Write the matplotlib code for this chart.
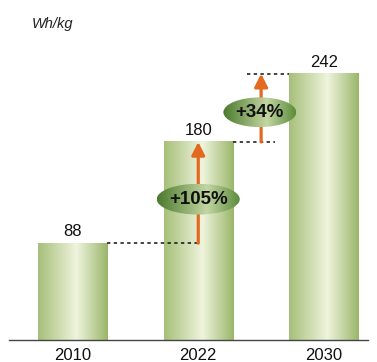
import matplotlib
matplotlib.use("Agg")
import matplotlib.pyplot as plt
import numpy as np
from matplotlib.colors import LinearSegmentedColormap
from matplotlib.patches import Ellipse

plt.rcParams['font.family'] = ['Liberation Sans', 'DejaVu Sans']

years = ["2010", "2022", "2030"]
values = [88, 180, 242]
growth_labels = ["+105%", "+34%"]
unit = "Wh/kg"

W, H = 377, 362
fig = plt.figure(figsize=(W / 100, H / 100), dpi=100)
ax = fig.add_axes([9 / W, 22 / H, (368 - 9) / W, 340 / H])
x = np.arange(len(years))
ax.set_xlim(-0.505, 2.35)
ax.set_ylim(0, 309)

for s in ["top", "right", "left"]:
    ax.spines[s].set_visible(False)
ax.spines["bottom"].set_color("#454545")
ax.spines["bottom"].set_linewidth(1.0)
ax.set_yticks([])
ax.set_xticks(x)
ax.set_xticklabels(years, fontsize=12, color="#111111")
ax.tick_params(axis="x", length=0, pad=5.5)

bar_cmap = LinearSegmentedColormap.from_list(
    "bar", [(0, "#a6bf79"), (0.55, "#eff4dd"), (1, "#9ab66b")])
ell_cmap = LinearSegmentedColormap.from_list(
    "ell", [(0, "#4b7a2c"), (0.6, "#c3d6a3"), (1, "#5c8b3b")])
grad = np.linspace(0, 1, 256).reshape(1, -1)

bw = 0.55
for xi, v in zip(x, values):
    ax.imshow(grad, cmap=bar_cmap, aspect="auto",
              extent=(xi - bw / 2, xi + bw / 2, 0, v), zorder=1)
    ax.annotate(str(v), (xi, v), xytext=(0, 3), textcoords="offset points",
                ha="center", va="bottom", fontsize=12, color="#111111")

dash = dict(color="#111111", lw=1.1, linestyle=(0, (2.2, 2.2)), zorder=2)
orange = "#e2691f"
arrow_x = [1.0, 1.5]

# 2010 -> 2022
ax.plot([0 + bw / 2, arrow_x[0]], [values[0], values[0]], **dash)
# 2022 -> 2030
ax.plot([1 + bw / 2, 1.61], [values[1], values[1]], **dash)
ax.plot([1.39, 2 - bw / 2], [values[2], values[2]], **dash)

for i, ax_x in enumerate(arrow_x):
    ax.annotate("", xy=(ax_x, values[i + 1]), xytext=(ax_x, values[i]),
                arrowprops=dict(arrowstyle="-|>,head_length=0.55,head_width=0.28",
                                color=orange, lw=2.3, mutation_scale=14,
                                shrinkA=0, shrinkB=0), zorder=3)

ell_specs = [(1.0, 128, 0.66, 28), (1.49, 207, 0.58, 27)]
for (cx, cy, ew, eh), lab in zip(ell_specs, growth_labels):
    e = Ellipse((cx, cy), ew, eh, facecolor="none", edgecolor="none", zorder=4)
    ax.add_patch(e)
    im = ax.imshow(grad, cmap=ell_cmap, aspect="auto",
                   extent=(cx - ew / 2, cx + ew / 2, cy - eh / 2, cy + eh / 2),
                   zorder=4)
    im.set_clip_path(e)
    ax.text(cx, cy, lab, ha="center", va="center", fontsize=13.5,
            fontweight="bold", color="#111111", zorder=5)

fig.text(32 / W, 1 - 24 / H, unit, fontsize=10.5, style="italic",
         color="#222222", ha="left", va="center")

fig.savefig("out.png", dpi=100)
